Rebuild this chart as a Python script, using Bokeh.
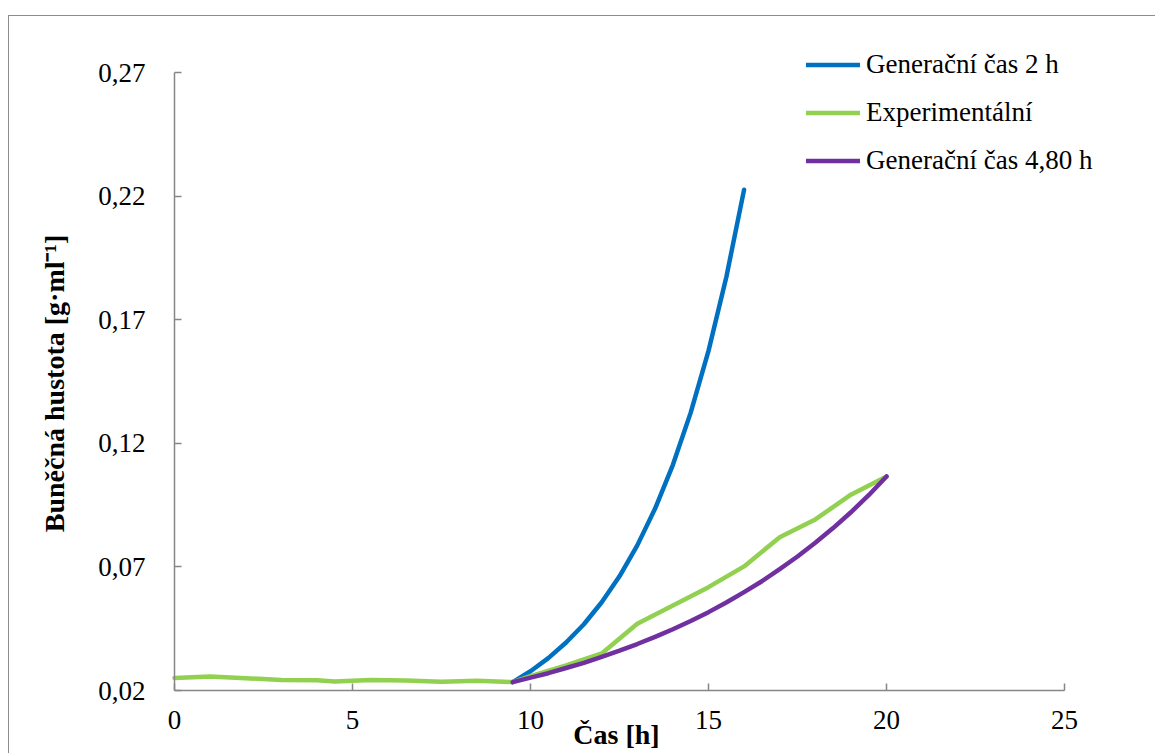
import math

from bokeh.plotting import figure
from bokeh.models import (Range1d, FixedTicker, Legend, LegendItem, Label,
                          InlineStyleSheet)
from bokeh.embed import file_html
from bokeh.resources import INLINE

# Time axis [h] and cell density [g/ml]
gen2_t = [9.5, 10, 10.5, 11, 11.5, 12, 12.5, 13, 13.5, 14, 14.5, 15, 15.5, 16]
gen2_y = [0.0234, 0.0278, 0.0331, 0.0394, 0.0468, 0.0557, 0.0662, 0.0787,
          0.0936, 0.1113, 0.1324, 0.1574, 0.1872, 0.2226]

exp_t = [0, 1, 2, 3, 4, 4.5, 5.5, 6.5, 7.5, 8.5, 9.5, 10, 11, 12, 13, 14,
         15, 16, 17, 18, 19, 20]
exp_y = [0.0251, 0.0257, 0.0250, 0.0242, 0.0241, 0.0236, 0.0242, 0.0240,
         0.0235, 0.0239, 0.0234, 0.0258, 0.0302, 0.0350, 0.0470, 0.0544,
         0.0618, 0.0702, 0.0820, 0.0892, 0.0992, 0.1066]

gen48_t = [9.5, 10, 10.5, 11, 11.5, 12, 12.5, 13, 13.5, 14, 14.5, 15, 15.5,
           16, 16.5, 17, 17.5, 18, 18.5, 19, 19.5, 20]
gen48_y = [0.0234, 0.0252, 0.0270, 0.0291, 0.0312, 0.0336, 0.0361, 0.0388,
           0.0417, 0.0448, 0.0481, 0.0517, 0.0556, 0.0598, 0.0642, 0.0691,
           0.0742, 0.0798, 0.0857, 0.0921, 0.0990, 0.1066]

x_ticks = [0, 5, 10, 15, 20, 25]
y_ticks = [0.02, 0.07, 0.12, 0.17, 0.22, 0.27]
y_tick_labels = ["0,02", "0,07", "0,12", "0,17", "0,22", "0,27"]

series_names = ["Generační čas 2 h", "Experimentální", "Generační čas 4,80 h"]
series_colors = ["#0070C0", "#92D050", "#7030A0"]

FONT = "Liberation Serif"
AXIS_GRAY = "#868686"
W, H = 1155, 753

# The data frame fills the whole canvas; the axes are pinned at t=0 and
# density=0.02 and bounded, so the plot area is 174..1064 px by 72..690 px.
PLOT_LEFT, PLOT_RIGHT, PLOT_TOP, PLOT_BOTTOM = 174, 1064, 72, 690
px_x = (PLOT_RIGHT - PLOT_LEFT) / 25.0
px_y = (PLOT_BOTTOM - PLOT_TOP) / 0.25
x_range = Range1d(-PLOT_LEFT / px_x, (W - PLOT_LEFT) / px_x)
y_range = Range1d(0.02 - (H - PLOT_BOTTOM) / px_y, 0.02 + PLOT_BOTTOM / px_y)


def to_x(sx):
    return (sx - PLOT_LEFT) / px_x


def to_y(sy):
    return 0.02 + (PLOT_BOTTOM - sy) / px_y


border_css = InlineStyleSheet(css="""
:host::after {
  content: "";
  position: absolute;
  left: 8px;
  top: 15px;
  right: 0;
  bottom: 0;
  border-left: 1.5px solid #8c8c8c;
  border-top: 1.5px solid #8c8c8c;
  pointer-events: none;
}
""")

p = figure(width=W, height=H, output_backend="svg", toolbar_location=None,
           x_range=x_range, y_range=y_range, min_border=0,
           min_border_left=0, min_border_right=0,
           min_border_top=0, min_border_bottom=0,
           stylesheets=[border_css])
p.background_fill_color = "white"
p.border_fill_color = "white"
p.outline_line_color = None
p.xgrid.visible = False
p.ygrid.visible = False

r_gen2 = p.line(gen2_t, gen2_y, line_color=series_colors[0], line_width=4.5,
                line_cap="round", line_join="round")
r_exp = p.line(exp_t, exp_y, line_color=series_colors[1], line_width=4.5,
               line_cap="round", line_join="round")
r_gen48 = p.line(gen48_t, gen48_y, line_color=series_colors[2], line_width=4.5,
                 line_cap="round", line_join="round")

# axes
for ax in (p.xaxis[0], p.yaxis[0]):
    ax.axis_line_color = AXIS_GRAY
    ax.axis_line_width = 1.5
    ax.major_tick_line_color = AXIS_GRAY
    ax.major_tick_line_width = 1.5
    ax.major_tick_in = 7
    ax.major_tick_out = 0
    ax.minor_tick_line_color = None
    ax.major_label_text_font = FONT
    ax.major_label_text_font_size = "27px"
    ax.major_label_text_color = "black"

p.xaxis[0].ticker = FixedTicker(ticks=x_ticks)
p.xaxis[0].bounds = (0, 25)
p.xaxis[0].fixed_location = 0.02
p.xaxis[0].major_label_standoff = 20

p.yaxis[0].ticker = FixedTicker(ticks=y_ticks)
p.yaxis[0].bounds = (0.02, 0.27)
p.yaxis[0].fixed_location = 0
p.yaxis[0].major_label_overrides = dict(zip(y_ticks, y_tick_labels))
p.yaxis[0].major_label_standoff = 29

# axis titles
p.add_layout(Label(x=to_x(616), y=to_y(734), text="Čas [h]", text_font=FONT,
                   text_font_size="28px", text_font_style="bold",
                   text_color="black", text_align="center",
                   text_baseline="alphabetic"))
p.add_layout(Label(x=to_x(54), y=to_y(383), text="Buněčná hustota [g·ml⁻¹]",
                   angle=math.pi / 2, text_font=FONT, text_font_size="28px",
                   text_font_style="bold", text_color="black",
                   text_align="center", text_baseline="middle"))

legend = Legend(items=[
    LegendItem(label=series_names[0], renderers=[r_gen2]),
    LegendItem(label=series_names[1], renderers=[r_exp]),
    LegendItem(label=series_names[2], renderers=[r_gen48]),
], location=(806, H - 183), orientation="vertical")
legend.label_text_font = FONT
legend.label_text_font_size = "27px"
legend.label_text_color = "black"
legend.glyph_width = 54
legend.glyph_height = 45
legend.label_height = 45
legend.spacing = 3
legend.padding = 0
legend.margin = 0
legend.label_standoff = 6
legend.background_fill_alpha = 0
legend.border_line_alpha = 0
p.add_layout(legend)

open("out.html", "w").write(file_html(p, INLINE))
